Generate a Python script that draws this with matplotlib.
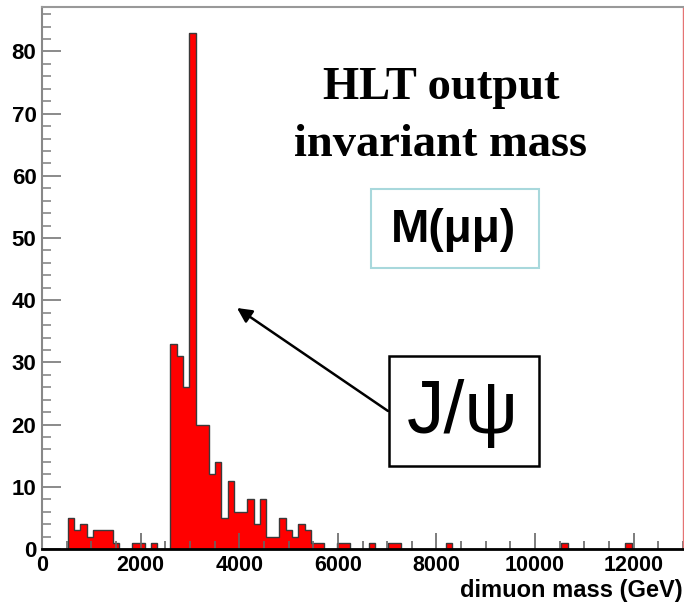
import numpy as np
import matplotlib
matplotlib.use('Agg')
import matplotlib.pyplot as plt
from matplotlib.patches import Rectangle
from matplotlib.ticker import MultipleLocator

# histogram binning (ROOT style, 100 bins over 0 - 13000)
x_lo = 0
x_hi = 13000
n_bins = 100

# entries per bin (10 bins per row)
counts = [
    0, 0, 0, 0, 5, 3, 4, 2, 3, 3,
    3, 1, 0, 0, 1, 1, 0, 1, 0, 0,
    33, 31, 26, 83, 20, 20, 12, 14, 5, 11,
    6, 6, 8, 4, 8, 2, 2, 5, 3, 2,
    4, 3, 1, 1, 0, 0, 1, 1, 0, 0,
    0, 1, 0, 0, 1, 1, 0, 0, 0, 0,
    0, 0, 0, 1, 0, 0, 0, 0, 0, 0,
    0, 0, 0, 0, 0, 0, 0, 0, 0, 0,
    0, 1, 0, 0, 0, 0, 0, 0, 0, 0,
    0, 1, 0, 0, 0, 0, 0, 0, 0, 0,
]

x_ticks = [0, 2000, 4000, 6000, 8000, 10000, 12000]
y_ticks = [0, 10, 20, 30, 40, 50, 60, 70, 80]

title_lines = ['HLT output', 'invariant mass']
x_title = 'dimuon mass (GeV)'


def px(x, y):
    # image pixel (top-left origin) -> figure fraction
    return x / 684.0, 1.0 - y / 605.0


def main():
    fontX = {'family': 'Liberation Sans', 'weight': 'bold', 'size': 15.5}
    fontY = {'family': 'Liberation Sans', 'weight': 'bold', 'size': 16}

    fig = plt.figure(figsize=(6.84, 6.05), dpi=100)
    ax = fig.add_axes([42 / 684, 1 - 549 / 605, 641 / 684, 542 / 605])

    edges = np.linspace(x_lo, x_hi, n_bins + 1)
    ax.stairs(counts, edges, fill=True, color='#ff0000', linewidth=0)
    ax.stairs(counts, edges, color='#3a3a3a', linewidth=1.0)

    ax.set_xlim(x_lo, x_hi)
    ax.set_ylim(0, max(counts) * 1.05)

    ax.set_xticks(x_ticks)
    ax.set_yticks(y_ticks)
    ax.xaxis.set_minor_locator(MultipleLocator(500))
    ax.yaxis.set_minor_locator(MultipleLocator(2))
    ax.set_xticklabels([str(v) for v in x_ticks], fontdict=fontX)
    ax.set_yticklabels([str(v) for v in y_ticks], fontdict=fontY)

    ax.tick_params(axis='x', which='major', direction='in', length=11.5, width=1.2, color='#666666', pad=4)
    ax.tick_params(axis='x', which='minor', direction='in', length=5.8, width=1.2, color='#666666')
    ax.tick_params(axis='y', which='major', direction='in', length=13.7, width=1.2, color='#777777', pad=4)
    ax.tick_params(axis='y', which='minor', direction='in', length=6.8, width=1.2, color='#888888')

    ax.spines['bottom'].set_color('black')
    ax.spines['bottom'].set_linewidth(2.0)
    ax.spines['left'].set_color('#888888')
    ax.spines['left'].set_linewidth(1.5)
    ax.spines['top'].set_color('#999999')
    ax.spines['top'].set_linewidth(1.5)
    ax.spines['right'].set_color('#e57373')
    ax.spines['right'].set_linewidth(1.0)

    # axis title, right aligned under the axis
    fig.text(*px(683, 591), x_title, ha='right', va='center',
             fontsize=17, fontweight='bold', family='Liberation Sans')

    # header text
    fig.text(*px(441, 88), title_lines[0], ha='center', va='center',
             fontsize=33.5, fontweight='bold', family='Liberation Serif')
    fig.text(*px(441, 145), title_lines[1], ha='center', va='center',
             fontsize=33.5, fontweight='bold', family='Liberation Serif')

    # M(mu mu) box
    x0, y0 = px(371, 268)
    x1, y1 = px(539, 189)
    fig.add_artist(Rectangle((x0, y0), x1 - x0, y1 - y0, transform=fig.transFigure,
                             fill=False, edgecolor='#a8d8dc', linewidth=1.5))
    fig.text(*px(453, 230), 'M(\u03bc\u03bc)', ha='center', va='center',
             fontsize=33, fontweight='bold', family='Liberation Sans')

    # J/psi box
    x0, y0 = px(389, 466)
    x1, y1 = px(539, 356)
    fig.add_artist(Rectangle((x0, y0), x1 - x0, y1 - y0, transform=fig.transFigure,
                             fill=False, edgecolor='black', linewidth=1.8))
    fig.text(*px(463, 414), 'J/\u03c8', ha='center', va='center',
             fontsize=54, family='Liberation Sans')

    # arrow pointing at the peak
    ax.annotate('', xy=px(237, 308), xycoords='figure fraction',
                xytext=px(388, 411), textcoords='figure fraction',
                arrowprops=dict(arrowstyle='-|>', color='black', lw=1.8,
                                mutation_scale=22, shrinkA=0, shrinkB=0))

    plt.savefig('out.png', dpi=100)


if __name__ == '__main__':
    main()
